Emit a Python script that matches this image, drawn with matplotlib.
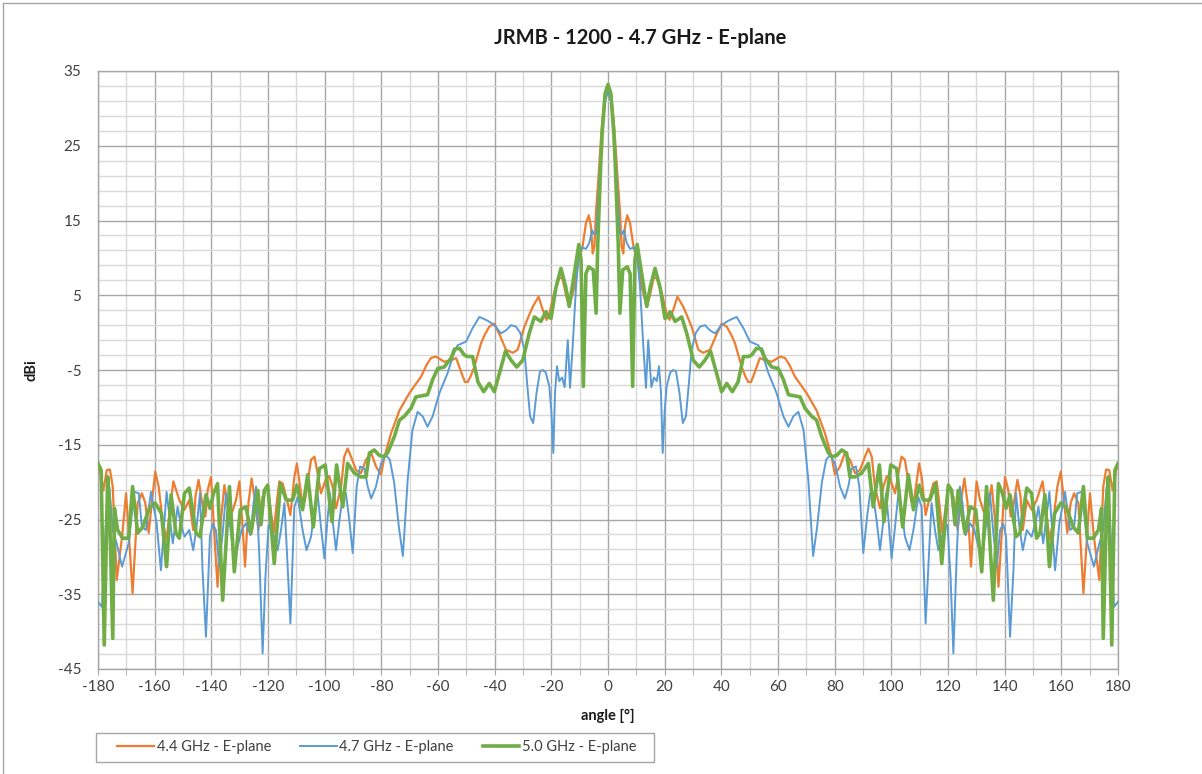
import matplotlib
matplotlib.use("Agg")
import matplotlib.pyplot as plt
from matplotlib.lines import Line2D
from matplotlib.patches import Rectangle
import numpy as np

# Pattern is symmetric about 0 deg: values read for 0..180, left half is the mirror
ANG_44 = [0, 1, 2, 2.6, 3.4, 4.2, 4.8, 5.4, 6.0, 6.8, 7.8, 9.0, 10.3, 11.9, 13.6, 14.8, 16.1, 17.2, 19.0,
          20.7, 21.7, 23.0, 24.5, 26.5, 28.0, 29.5, 31.9, 33.6, 36.0, 38.0, 40.1, 41.9, 43.5, 44.8, 46.0,
          47.2, 48.4, 49.5, 50.5, 51.5, 53.6, 55.4, 57.8, 60.7, 62.5, 64.0, 66.0, 70.1, 73.6, 76.6, 78.9,
          80.1, 81.9, 83.6, 85.4, 87.2, 88.9, 90.7, 91.9, 93.1, 94.2, 96.0, 97.2, 98.4, 99.5, 101.3, 102.5,
          103.6, 104.8, 106.0, 107.0, 108.2, 109.8, 110.7, 112.1, 113.3, 114.8, 116.0, 116.8, 118.0, 119.2,
          120.1, 121.9, 123.4, 124.6, 125.8, 126.9, 128.1, 128.9, 130.1, 131.3, 132.8, 134.2, 135.4, 136.6,
          137.8, 138.9, 140.1, 141.3, 142.1, 143.3, 144.5, 145.6, 146.4, 147.8, 149.5, 151.3, 153.4, 154.6,
          155.8, 157.2, 158.6, 159.8, 160.9, 162.1, 163.3, 164.5, 166.0, 167.8, 169.2, 170.1, 171.5, 173.4,
          174.8, 175.8, 176.9, 178.1, 179.3, 180]
DBI_44 = [33.0, 32.0, 28.5, 25.3, 20.5, 16.4, 11.5, 10.6, 14.2, 15.7, 14.6, 11.5, 9.7, 6.1, 3.5, 5.0, 7.3, 7.3, 5.3,
          2.5, 1.7, 3.0, 4.8, 3.5, 2.2, 0.8, -2.3, -2.7, -2.3, -0.5, 1.2, 0.8, -0.3, -1.4, -3.0,
          -4.6, -5.8, -6.6, -6.6, -5.6, -3.4, -3.7, -3.9, -3.2, -3.4, -4.3, -5.9, -8.1, -10.4, -13.5, -16.6,
          -19.0, -17.9, -16.1, -17.0, -18.8, -18.4, -16.6, -15.5, -16.6, -20.6, -23.5, -20.6, -19.2, -19.5, -21.5, -18.8,
          -16.6, -17.0, -20.0, -22.6, -22.0, -17.5, -19.3, -24.4, -22.4, -20.2, -19.9, -22.4, -26.8, -23.3,
          -20.6, -21.9, -26.4, -22.4, -19.5, -22.8, -31.3, -26.4, -19.9, -22.4, -24.2, -23.3, -20.4, -25.1,
          -34.0, -27.3, -19.3, -21.1, -24.6, -22.6, -19.7, -21.9, -26.4, -22.4, -23.7, -22.4, -19.9, -23.7,
          -27.7, -25.1, -20.6, -18.6, -22.4, -26.8, -22.8, -21.5, -22.8, -34.9, -26.4, -21.5, -27.3, -33.1,
          -20.6, -18.3, -18.4, -21.1, -18.4, -17.9]

ANG_47 = [0, 1, 2, 2.8, 3.6, 4.2, 5.0, 5.6, 6.6, 7.8, 9.2, 10.4, 11.3, 12.5, 13.4, 14.2, 15.3, 16.2, 17.2, 18.0,
          18.7, 19.3, 20.0, 20.7, 22.0, 23.1, 24.0, 25.2, 26.4, 27.5, 28.5, 29.5, 31.0, 32.5, 34.2, 36.0, 37.8,
          40.1, 42.5, 45.4, 47.8, 50.1, 53.1, 54.8, 56.6, 59.5, 61.9, 63.7, 65.4, 67.2, 69.0, 70.7, 72.4, 73.8,
          75.5, 77.0, 78.4, 80.1, 81.9, 83.6, 84.8, 86.0, 87.5, 88.7, 90.1, 91.3, 92.5, 93.6, 94.8, 96.0, 97.2,
          98.1, 98.9, 100.1, 101.3, 102.5, 103.6, 104.8, 106.4, 107.8, 109.5, 110.7, 112.1, 113.3, 114.2, 115.4,
          116.6, 117.8, 118.9, 119.8, 120.9, 121.9, 123.1, 124.2, 125.1, 126.2, 127.8, 129.3, 130.7, 132.1,
          133.6, 134.8, 136.0, 137.2, 138.4, 139.5, 140.5, 141.9, 143.1, 144.0, 145.2, 146.4, 147.8, 149.5,
          151.1, 151.9, 153.6, 155.8, 157.8, 159.3, 161.3, 163.1, 164.5, 165.6, 167.2, 169.2, 171.5, 173.4,
          174.8, 176.0, 177.2, 178.6, 180]
DBI_47 = [32.3, 31.0, 27.0, 22.5, 17.0, 13.2, 13.2, 13.7, 12.0, 11.2, 11.4, 10.0, 6.1, -2.0, -7.4, -1.0, -7.3, -6.0, -6.5, -4.5,
          -8.0, -16.1, -10.5, -7.2, -5.3, -5.0, -5.2, -8.0, -12.1, -11.2, -7.0, -2.3, 0.0, 0.8, 1.0, 0.3, -0.1,
          1.0, 1.6, 2.1, 0.6, -1.2, -1.7, -3.2, -5.4, -8.1, -11.2, -12.6, -11.2, -10.6, -13.0, -19.7, -29.9, -26.0,
          -20.0, -17.0, -16.4, -17.5, -20.6, -22.2, -20.6, -18.2, -17.9, -20.6, -29.5, -25.1, -21.5, -21.9, -25.1, -29.1, -25.1,
          -21.5, -24.6, -30.2, -26.0, -21.5, -23.7, -27.3, -29.1, -26.4, -22.0, -23.3, -38.9, -29.5, -22.8, -26.4,
          -29.1, -27.3, -26.4, -25.7, -32.6, -42.9, -29.5, -20.6, -22.8, -27.1, -25.5, -26.4, -28.6, -30.0,
          -25.1, -21.5, -26.8, -31.3, -26.4, -25.6, -27.3, -40.7, -31.8, -21.5, -26.0, -29.1, -26.4, -27.3,
          -25.1, -23.3, -28.2, -21.3, -31.8, -25.5, -21.3, -26.4, -26.0, -21.5, -21.3, -28.2, -31.3, -28.2,
          -26.4, -20.6, -25.1, -36.7, -36.0]

ANG_50 = [0, 1, 2, 2.5, 3.6, 4.2, 5.2, 6.8, 7.8, 8.7, 9.5, 10.3, 11.3, 13.7, 14.9, 16.6, 18.4, 20.1, 21.0, 21.9,
          23.7, 26.0, 27.8, 30.1, 32.2, 34.2, 36.2, 40.1, 41.9, 43.9, 45.9, 47.8, 49.5, 50.7, 52.4, 54.2, 55.4,
          57.8, 60.1, 61.9, 63.7, 67.8, 69.5, 71.9, 73.6, 75.4, 77.8, 79.2, 80.8, 82.5, 84.2, 85.4, 87.2, 89.5,
          91.9, 93.6, 95.8, 97.4, 98.9, 99.8, 101.9, 104.0, 106.0, 107.8, 109.8, 111.3, 113.6, 115.6, 117.8,
          120.1, 121.3, 122.5, 123.6, 126.0, 127.8, 129.8, 131.9, 133.6, 136.0, 137.8, 139.2, 140.5, 141.9,
          144.0, 145.4, 147.8, 149.5, 151.3, 152.5, 154.2, 155.8, 157.6, 159.8, 161.9, 164.2, 166.0, 167.8,
          169.2, 171.3, 173.1, 174.2, 174.8, 176.0, 176.6, 177.8, 178.9, 180]
DBI_50 = [33.2, 32.0, 27.0, 23.1, 12.0, 2.6, 8.4, 8.8, 7.9, -7.2, 9.7, 11.8, 9.3, 3.5, 6.1, 8.6, 6.0, 1.9, 2.1, 2.8,
          1.5, 2.1, -0.1, -3.7, -4.6, -3.7, -2.5, -7.9, -6.8, -7.9, -6.6, -3.2, -3.2, -3.0, -2.1, -2.2, -3.4,
          -4.6, -4.8, -6.3, -8.3, -8.6, -10.1, -11.2, -11.7, -13.9, -16.1, -16.6, -16.4, -15.7, -16.1, -19.3, -19.3, -18.8,
          -17.5, -23.3, -17.7, -25.3, -20.6, -17.7, -18.2, -26.0, -19.0, -23.7, -20.4, -22.4, -22.4, -20.2, -30.9,
          -20.4, -21.1, -25.7, -21.1, -26.8, -23.3, -23.7, -32.0, -20.6, -35.8, -20.2, -21.5, -23.5, -21.7,
          -27.3, -26.8, -20.8, -21.5, -27.5, -26.8, -21.7, -31.3, -24.2, -22.8, -23.5, -26.0, -26.8, -20.6,
          -27.5, -27.5, -26.4, -23.5, -40.9, -22.4, -19.3, -41.8, -18.4, -17.5]

LABELS = ["4.4 GHz - E-plane", "4.7 GHz - E-plane", "5.0 GHz - E-plane"]
COLORS = ["#ED7D31", "#5B9BD5", "#70AD47"]
WIDTHS = [1.6, 1.4, 2.6]


def full_pattern(ang, dbi):
    a = np.array(ang, dtype=float)
    v = np.array(dbi, dtype=float)
    return np.concatenate([-a[:0:-1], a]), np.concatenate([v[:0:-1], v])


plt.rcParams["font.family"] = ["Lato", "DejaVu Sans"]
plt.rcParams["axes.unicode_minus"] = False

fig = plt.figure(figsize=(12.02, 7.74), dpi=100)
ax = fig.add_axes([98 / 1202, 1 - 669 / 774, 1020 / 1202, 598 / 774])

for (ang, dbi), lab, col, lw in zip([(ANG_44, DBI_44), (ANG_47, DBI_47), (ANG_50, DBI_50)],
                                     LABELS, COLORS, WIDTHS):
    x, y = full_pattern(ang, dbi)
    ax.plot(x, y, color=col, lw=lw, label=lab, solid_joinstyle="round", zorder=3)

ax.set_xlim(-180, 180)
ax.set_ylim(-45, 35)
ax.set_xticks(np.arange(-180, 181, 20))
ax.set_xticks(np.arange(-180, 181, 10), minor=True)
ax.set_yticks(np.arange(-45, 36, 10))
ax.set_yticks(np.arange(-45, 36, 2), minor=True)
ax.grid(which="major", color="#A6A6A6", lw=1.0, zorder=1)
ax.grid(which="minor", color="#D9D9D9", lw=1.0, zorder=0)
ax.tick_params(axis="x", which="both", direction="out", length=4, color="#A6A6A6",
               labelsize=11, labelcolor="#404040", pad=4)
ax.tick_params(axis="y", which="both", length=0, labelsize=11, labelcolor="#404040", pad=12)
for s in ax.spines.values():
    s.set_color("#A6A6A6")
    s.set_linewidth(1.0)

fig.text(640 / 1202, 1 - 38 / 774, "JRMB - 1200 - 4.7 GHz - E-plane", ha="center", va="center",
         fontsize=14.5, fontweight="bold", color="#1a1a1a")
fig.text(32 / 1202, 1 - 370 / 774, "dBi", rotation=90, ha="center", va="center",
         fontsize=10.5, fontweight="bold", color="#1a1a1a")
fig.text(608 / 1202, 1 - 716 / 774, "angle [°]", ha="center", va="center",
         fontsize=10.5, fontweight="bold", color="#1a1a1a")

# legend box drawn separately, entries centred inside it
fig.add_artist(Rectangle((96 / 1202, 1 - 762 / 774), 558 / 1202, 29 / 774, transform=fig.transFigure,
                         facecolor="white", edgecolor="#A6A6A6", lw=1.0))
handles = [Line2D([], [], color=c, lw=w) for c, w in zip(COLORS, WIDTHS)]
leg = fig.legend(handles, LABELS, ncol=3, loc="center",
                 bbox_to_anchor=(377 / 1202, 1 - 747.5 / 774),
                 fontsize=10.5, handlelength=2.5, handletextpad=0.2, columnspacing=2.0,
                 frameon=False, borderpad=0.2, borderaxespad=0)
for t in leg.get_texts():
    t.set_color("#404040")

# chart area border (left and top visible)
fig.add_artist(Line2D([3 / 1202, 3 / 1202], [0, 1 - 3 / 774], color="#A6A6A6", lw=1.0))
fig.add_artist(Line2D([3 / 1202, 1], [1 - 3 / 774, 1 - 3 / 774], color="#A6A6A6", lw=1.0))

fig.savefig("out.png", dpi=100)
